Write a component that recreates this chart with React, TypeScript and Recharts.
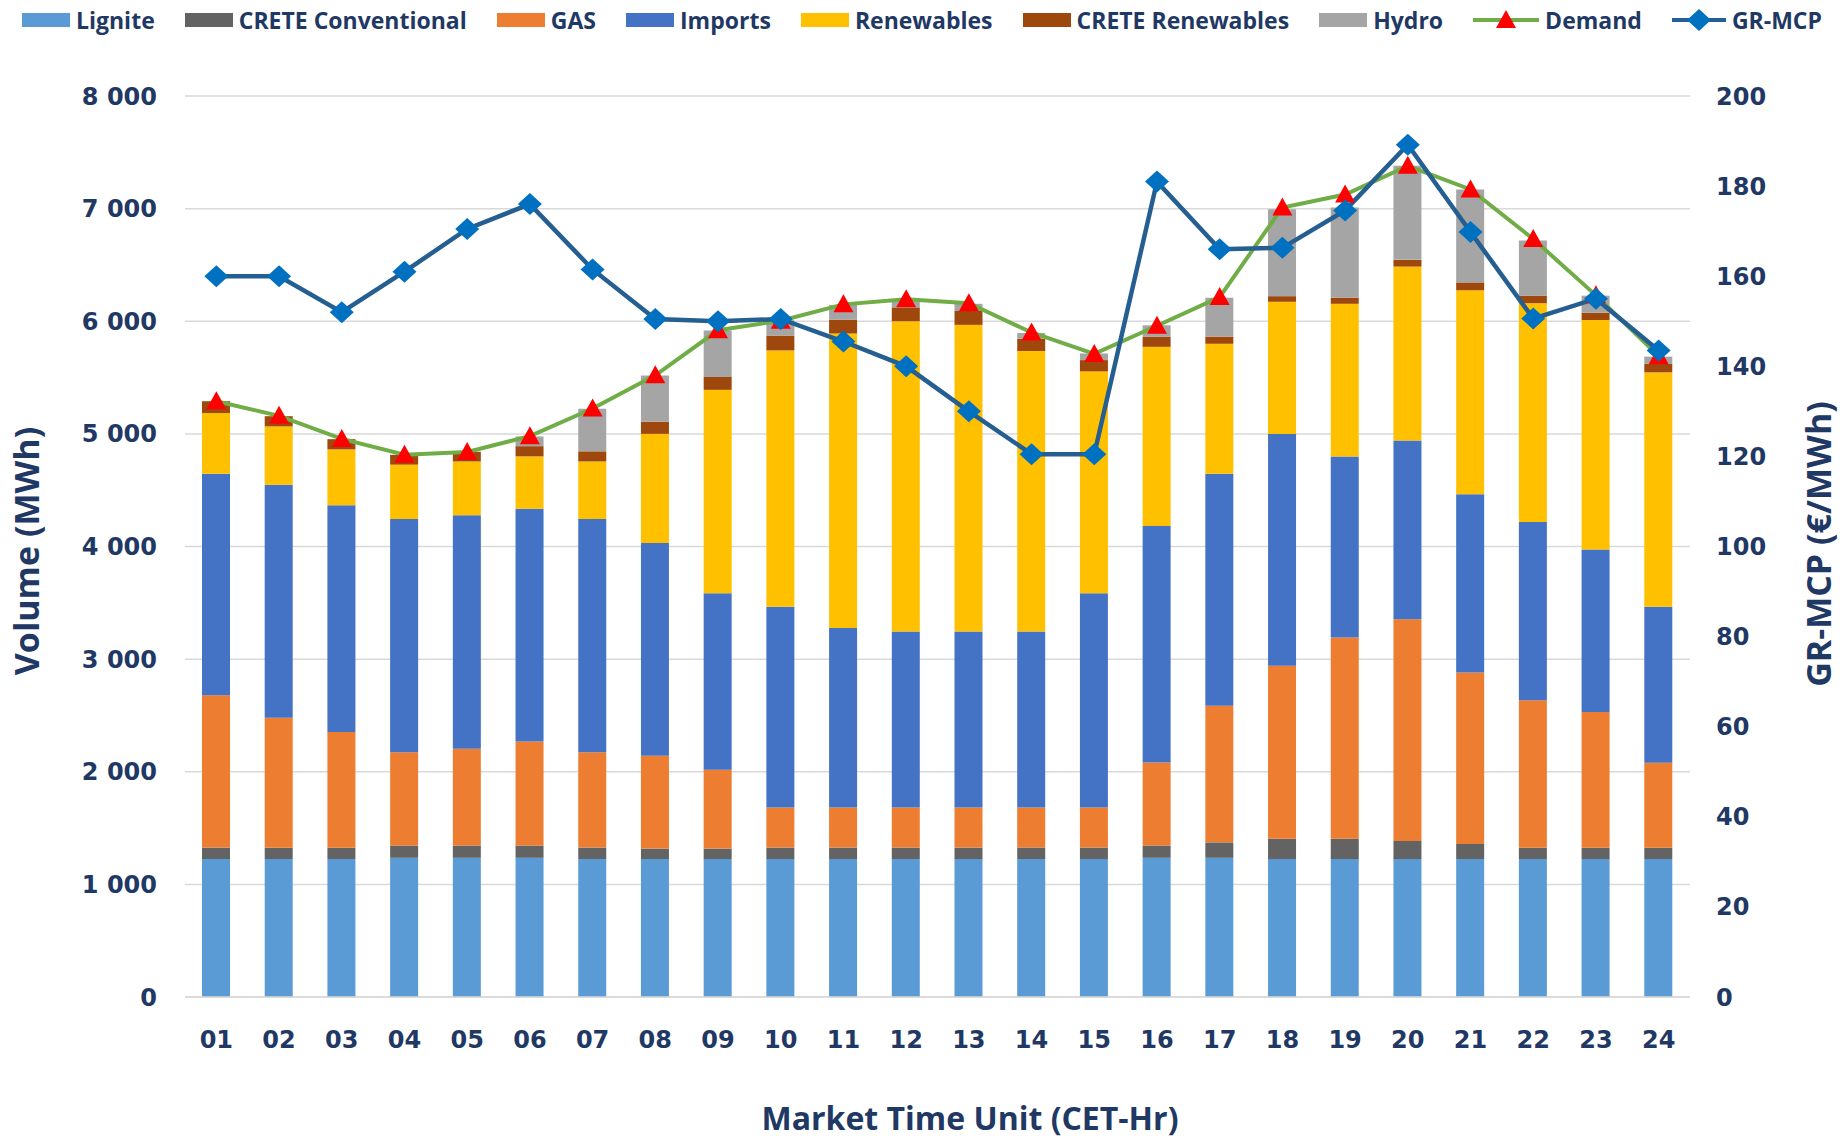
import React from 'react'
import {
    ComposedChart,
    Bar,
    Line,
    XAxis,
    YAxis,
    CartesianGrid,
    Label,
} from 'recharts'

const HOURS = ['01', '02', '03', '04', '05', '06', '07', '08', '09', '10', '11', '12',
    '13', '14', '15', '16', '17', '18', '19', '20', '21', '22', '23', '24']

// MWh per market time unit
const LIGNITE = [1225, 1225, 1225, 1236, 1236, 1236, 1225, 1225, 1225, 1225, 1225, 1225,
    1225, 1225, 1225, 1236, 1236, 1225, 1225, 1225, 1225, 1225, 1225, 1225]
const CRETE_CONV = [102, 100, 100, 109, 109, 109, 102, 93, 93, 102, 102, 102,
    102, 102, 102, 109, 137, 180, 180, 161, 134, 100, 100, 100]
const GAS = [1353, 1155, 1028, 828, 860, 923, 846, 823, 700, 355, 355, 355,
    355, 355, 355, 737, 1213, 1536, 1786, 1969, 1523, 1309, 1205, 756]
const IMPORTS = [1965, 2068, 2013, 2072, 2072, 2068, 2072, 1891, 1568, 1782, 1595, 1563,
    1563, 1563, 1904, 2100, 2059, 2059, 1609, 1586, 1582, 1584, 1443, 1384]
const RENEWABLES = [540, 518, 496, 482, 478, 464, 510, 968, 1805, 2277, 2614, 2755,
    2723, 2491, 1969, 1591, 1155, 1173, 1355, 1544, 1811, 1942, 2038, 2081]
const CRETE_REN = [105, 91, 91, 87, 86, 91, 90, 109, 114, 132, 123, 123,
    123, 109, 100, 91, 64, 50, 55, 60, 70, 67, 65, 76]
const HYDRO = [0, 0, 0, 0, 0, 86, 378, 409, 413, 136, 131, 67,
    64, 50, 59, 100, 345, 772, 800, 835, 825, 490, 151, 64]
const DEMAND = [5290, 5160, 4955, 4815, 4840, 4980, 5225, 5520, 5920, 6005, 6150, 6195,
    6160, 5900, 5710, 5960, 6215, 7010, 7125, 7380, 7170, 6730, 6230, 5690]
// €/MWh
const MCP = [160, 160, 152, 161, 170.5, 176, 161.5, 150.5, 150, 150.5, 145.5, 140,
    130, 120.5, 120.5, 181, 166, 166.3, 174.6, 189.2, 169.8, 150.6, 155, 143.5]

const VOLUME_TICKS = [0, 1000, 2000, 3000, 4000, 5000, 6000, 7000, 8000]
const PRICE_TICKS = [0, 20, 40, 60, 80, 100, 120, 140, 160, 180, 200]

const NAVY = '#1F3864'
const TICK_FONT = { fontFamily: 'DejaVu Sans', fontWeight: 700, fontSize: 24, fill: NAVY }
const TITLE_FONT = 'Open Sans'

const BARS = [
    { key: 'lignite', name: 'Lignite', color: '#5B9BD5' },
    { key: 'creteConv', name: 'CRETE Conventional', color: '#636363' },
    { key: 'gas', name: 'GAS', color: '#ED7D31' },
    { key: 'imports', name: 'Imports', color: '#4472C4' },
    { key: 'renewables', name: 'Renewables', color: '#FFC000' },
    { key: 'creteRen', name: 'CRETE Renewables', color: '#9E480E' },
    { key: 'hydro', name: 'Hydro', color: '#A5A5A5' },
]

const data = HOURS.map((hour, i) => ({
    hour,
    lignite: LIGNITE[i],
    creteConv: CRETE_CONV[i],
    gas: GAS[i],
    imports: IMPORTS[i],
    renewables: RENEWABLES[i],
    creteRen: CRETE_REN[i],
    hydro: HYDRO[i],
    demand: DEMAND[i],
    mcp: MCP[i],
}))

const fmtThousands = (v: number) => String(v).replace(/\B(?=(\d{3})+(?!\d))/g, ' ')

const Triangle = (props: any) => {
    const { cx, cy, index } = props
    if (cx == null || cy == null) return <g key={`t-${index}`} />
    return (
        <polygon
            key={`t-${index}`}
            points={`${cx},${cy - 10} ${cx + 10},${cy + 8} ${cx - 10},${cy + 8}`}
            fill="#FF0000"
        />
    )
}

const Diamond = (props: any) => {
    const { cx, cy, index } = props
    if (cx == null || cy == null) return <g key={`d-${index}`} />
    return (
        <polygon
            key={`d-${index}`}
            points={`${cx},${cy - 11} ${cx + 12},${cy} ${cx},${cy + 11} ${cx - 12},${cy}`}
            fill="#0070C0"
        />
    )
}

function LegendRow() {
    const textStyle: React.CSSProperties = {
        fontFamily: TITLE_FONT,
        fontWeight: 700,
        fontSize: 23,
        color: NAVY,
        marginLeft: 6,
        whiteSpace: 'nowrap',
    }
    return (
        <div
            style={{
                position: 'absolute',
                left: 22,
                top: 4,
                width: 1800,
                height: 32,
                display: 'flex',
                justifyContent: 'space-between',
                alignItems: 'center',
            }}
        >
            {BARS.map((b) => (
                <div key={b.key} style={{ display: 'flex', alignItems: 'center' }}>
                    <div style={{ width: 48, height: 14, background: b.color }} />
                    <span style={textStyle}>{b.name}</span>
                </div>
            ))}
            <div style={{ display: 'flex', alignItems: 'center' }}>
                <svg width={66} height={24}>
                    <line x1={0} y1={12} x2={66} y2={12} stroke="#70AD47" strokeWidth={4} />
                    <polygon points="33,2 43,20 23,20" fill="#FF0000" />
                </svg>
                <span style={textStyle}>Demand</span>
            </div>
            <div style={{ display: 'flex', alignItems: 'center' }}>
                <svg width={54} height={24}>
                    <line x1={0} y1={12} x2={54} y2={12} stroke="#255E91" strokeWidth={4} />
                    <polygon points="27,1 39,12 27,23 15,12" fill="#0070C0" />
                </svg>
                <span style={textStyle}>GR-MCP</span>
            </div>
        </div>
    )
}

export default function App() {
    return (
        <div style={{ position: 'absolute', left: 0, top: 0, width: 1845, height: 1142, background: '#fff' }}>
            <LegendRow />
            <ComposedChart
                width={1845}
                height={1142}
                data={data}
                margin={{ top: 96, right: 0, bottom: 0, left: 0 }}
            >
                <CartesianGrid yAxisId="left" vertical={false} stroke="#D9D9D9" strokeWidth={1.5} />
                <XAxis
                    dataKey="hour"
                    height={145}
                    tick={TICK_FONT}
                    tickLine={false}
                    tickMargin={28}
                    axisLine={{ stroke: '#D9D9D9', strokeWidth: 1.5 }}
                    interval={0}
                >
                    <Label
                        content={() => (
                            <text
                                x={970}
                                y={1130}
                                textAnchor="middle"
                                fontFamily={TITLE_FONT}
                                fontWeight={700}
                                fontSize={32}
                                fill={NAVY}
                            >
                                Market Time Unit (CET-Hr)
                            </text>
                        )}
                    />
                </XAxis>
                <YAxis
                    yAxisId="left"
                    width={185}
                    domain={[0, 8000]}
                    ticks={VOLUME_TICKS}
                    tickFormatter={fmtThousands}
                    tick={TICK_FONT}
                    tickLine={false}
                    tickMargin={22}
                    axisLine={false}
                >
                    <Label
                        content={() => (
                            <text
                                x={26}
                                y={551}
                                transform="rotate(-90, 26, 551)"
                                textAnchor="middle"
                                dominantBaseline="central"
                                fontFamily={TITLE_FONT}
                                fontWeight={700}
                                fontSize={34}
                                fill={NAVY}
                            >
                                Volume (MWh)
                            </text>
                        )}
                    />
                </YAxis>
                <YAxis
                    yAxisId="right"
                    orientation="right"
                    width={155}
                    domain={[0, 200]}
                    ticks={PRICE_TICKS}
                    tick={TICK_FONT}
                    tickLine={false}
                    tickMargin={20}
                    axisLine={false}
                >
                    <Label
                        content={() => (
                            <text
                                x={1818}
                                y={544}
                                transform="rotate(-90, 1818, 544)"
                                textAnchor="middle"
                                dominantBaseline="central"
                                fontFamily={TITLE_FONT}
                                fontWeight={700}
                                fontSize={34}
                                fill={NAVY}
                            >
                                GR-MCP (€/MWh)
                            </text>
                        )}
                    />
                </YAxis>
                {BARS.map((b) => (
                    <Bar
                        key={b.key}
                        yAxisId="left"
                        dataKey={b.key}
                        name={b.name}
                        stackId="mix"
                        fill={b.color}
                        barSize={28}
                        isAnimationActive={false}
                    />
                ))}
                <Line
                    yAxisId="left"
                    dataKey="demand"
                    name="Demand"
                    stroke="#70AD47"
                    strokeWidth={4}
                    dot={Triangle}
                    activeDot={false}
                    isAnimationActive={false}
                />
                <Line
                    yAxisId="right"
                    dataKey="mcp"
                    name="GR-MCP"
                    stroke="#255E91"
                    strokeWidth={4.5}
                    dot={Diamond}
                    activeDot={false}
                    isAnimationActive={false}
                />
            </ComposedChart>
        </div>
    )
}
